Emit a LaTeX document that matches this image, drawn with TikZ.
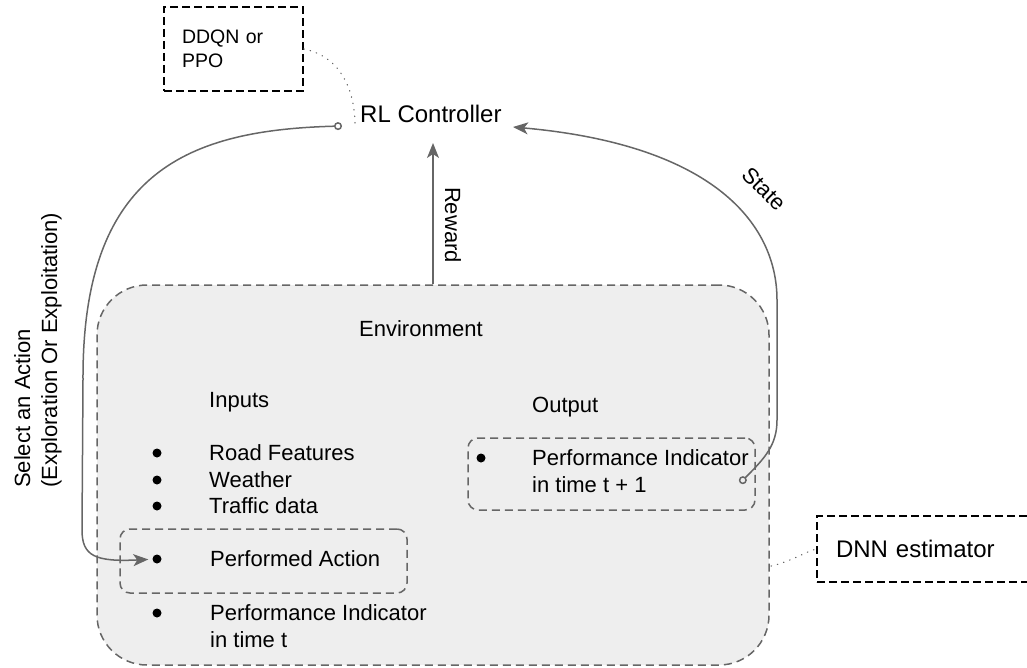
\documentclass[tikz,border=0pt]{standalone}
\usepackage{fontspec}
\setmainfont{Liberation Sans}
\usetikzlibrary{arrows.meta,calc}
\definecolor{envfill}{HTML}{EEEEEE}
\definecolor{edgegray}{HTML}{666666}
\tikzset{
	txt/.style={inner sep=0pt, anchor=base west, align=left, font=\fontsize{22}{27}\selectfont},
	dot/.style={circle, fill=black, inner sep=0pt, minimum size=9pt},
	dashbox/.style={draw=edgegray, line width=1.5pt, dash pattern=on 8pt off 5pt, rounded corners=10pt},
	notebox/.style={draw=black, line width=1.6pt, dash pattern=on 8pt off 4pt, align=left},
	flow/.style={draw=edgegray, line width=1.5pt, -{Stealth[length=15pt,width=12pt,inset=4pt]}},
	oval/.style={{Circle[open,length=8pt,width=8pt]}-{Stealth[length=15pt,width=12pt,inset=4pt]}},
	hint/.style={draw=edgegray, line width=1.2pt, line cap=round, dash pattern=on 0.5pt off 6pt}
}
\begin{document}
\begin{tikzpicture}[x=1pt,y=-1pt]
	\useasboundingbox (0,0) rectangle (1027,668);
	\node[dashbox, fill=envfill, rounded corners=50pt, minimum width=672pt, minimum height=380pt] (env) at (433,475) {};
	\node[dashbox, minimum width=287pt, minimum height=72pt] (outbox) at (611.5,474) {};
	\node[dashbox, minimum width=287pt, minimum height=64pt] (actbox) at (263.5,561) {};
	\node[txt] (envlbl) at (359,336) {Environment};
	\node[txt] (inlbl) at (209,407) {Inputs};
	\node[txt] (outlbl) at (532,412) {Output};
	\foreach \y/\t [count=\i] in {460/Road Features, 487/Weather, 513/Traffic data}{
		\node[dot] (in\i) at (157,\y-7) {};
		\node[txt] (inname\i) at (209,\y) {\t};
	}
	\node[dot] (b4) at (157,559) {};
	\node[txt] (act) at (210,566) {Performed Action};
	\node[dot] (b5) at (157,613) {};
	\node[txt] (pit) at (210,647) {Performance Indicator\\in time t};
	\node[dot] (b6) at (481,458) {};
	\node[txt] (pinext) at (532,492) {Performance Indicator\\in time t + 1};
	\node[txt, font=\fontsize{24}{29}\selectfont] (rl) at (360,123) {RL Controller};
	\node[notebox, font=\fontsize{19.5}{24}\selectfont, text width=103pt, inner xsep=18pt, minimum height=84pt] (algo) at (233.5,49) {DDQN or\\PPO};
	\node[notebox, font=\fontsize{24}{29}\selectfont, text width=220pt, inner xsep=19pt, minimum height=66pt] (dnn) at (946,549) {DNN estimator};
	\node[txt, rotate=90] (sellbl) at (57,488) {Select an Action\\(Exploration Or Exploitation)};
	\node[txt, anchor=center, rotate=-90] (rwdlbl) at (453,225) {Reward};
	\node[txt, anchor=center, rotate=-45] (stlbl) at (764,189) {State};
	\coordinate (rwdtip) at (433,143);
	\coordinate (selstart) at (342,126);
	\coordinate (ststart) at (740,483);
	\coordinate (sttip) at (513,127);
	\coordinate (envside) at (771,566);
	\draw[flow] (env.north) -- (rwdtip);
	\draw[flow, oval, shorten >=4pt] (selstart) .. controls (190,130) and (82,170) .. (83,380) -- (82,530) .. controls (82,556) and (95,562) .. (b4);
	\draw[flow, oval] (ststart) .. controls (765,458) and (777,445) .. (777,420) -- (777,300) .. controls (777,225) and (715,145) .. (sttip);
	\draw[hint] (algo.east) .. controls (335,55) and (354,82) .. ($(rl.base west)+(-5,0)$);
	\draw[hint] (envside) .. controls (790,562) and (805,552) .. (dnn.west);
\end{tikzpicture}
\end{document}
